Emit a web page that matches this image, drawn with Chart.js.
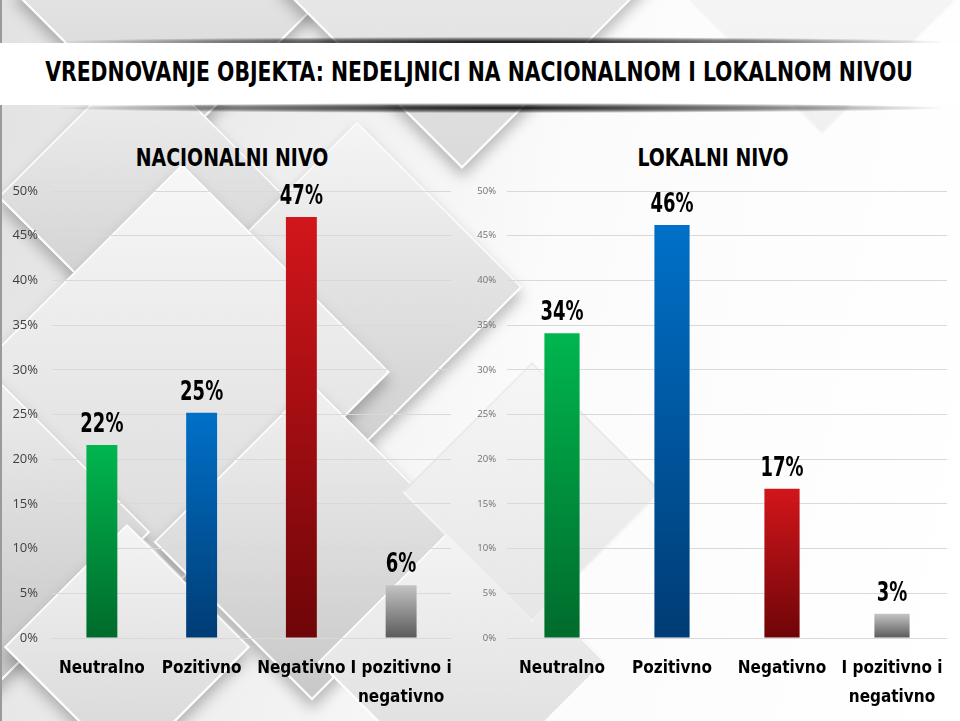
<!DOCTYPE html>
<html lang="sr">

<head>
    <meta charset="UTF-8">
    <title>Vrednovanje objekta</title>
    <script src="https://cdn.jsdelivr.net/npm/chart.js"></script>
    <style>
        html, body { margin: 0; padding: 0; }
        body {
            width: 960px; height: 721px; overflow: hidden; position: relative;
            background: linear-gradient(100deg, #e2e2e2 0%, #f1f1f1 35%, #fbfbfb 55%, #ffffff 100%);
            font-family: "DejaVu Sans Condensed", sans-serif;
        }
        .frame { position: absolute; left: 0; top: 0; width: 958px; height: 721px; border-left: 2px solid #9a9a9a; }
        .dia {
            position: absolute; transform: rotate(45deg);
            border: 2px solid rgba(255, 255, 255, 0.9);
            box-shadow: 6px 6px 14px rgba(0, 0, 0, 0.25);
        }
        .band { position: absolute; left: 0; top: 43px; width: 960px; height: 62px; background: #fff; }
        .shade { position: absolute; left: 60px; width: 880px; height: 10px;
            background: radial-gradient(ellipse at center, rgba(0,0,0,0.9) 0%, rgba(0,0,0,0.45) 45%, rgba(0,0,0,0) 72%); }
        .title, .sub { position: absolute; font-weight: bold; color: #000; white-space: nowrap; }
        .title span, .sub span { position: absolute; top: 0; transform: translateX(-50%) scaleX(0.84); }
        .title { left: 479px; top: 56px; font-size: 27px; }
        .sub { top: 143px; font-size: 25px; }
        canvas { position: absolute; }
    </style>
</head>

<body>
    <!-- pozadina -->
    <div class="dia" style="left:60px; top:-120px; width:220px; height:220px; background:linear-gradient(135deg,#f4f4f4,#d2d2d2);"></div>
    <div class="dia" style="left:330px; top:-150px; width:260px; height:260px; background:linear-gradient(135deg,#f6f6f6,#dadada);"></div>
    <div class="dia" style="left:40px; top:95px; width:200px; height:200px; background:linear-gradient(135deg,#f2f2f2,#cacaca);"></div>
    <div class="dia" style="left:240px; top:170px; width:230px; height:230px; background:linear-gradient(135deg,#f5f5f5,#cfcfcf);"></div>
    <div class="dia" style="left:35px; top:225px; width:290px; height:290px; background:linear-gradient(135deg,#f7f7f7,#dadada);"></div>
    <div class="dia" style="left:-120px; top:420px; width:220px; height:220px; background:linear-gradient(135deg,#eeeeee,#c4c4c4);"></div>
    <div class="dia" style="left:200px; top:430px; width:220px; height:220px; background:linear-gradient(135deg,#f1f1f1,#c8c8c8);"></div>
    <div class="dia" style="left:40px; top:560px; width:170px; height:170px; background:linear-gradient(135deg,#f4f4f4,#d5d5d5);"></div>
    <div class="dia" style="left:360px; top:560px; width:200px; height:200px; background:linear-gradient(135deg,#f5f5f5,#dadada); box-shadow:none;"></div>
    <div class="dia" style="left:440px; top:400px; width:180px; height:180px; background:linear-gradient(135deg,#f6f6f6,#e6e6e6); box-shadow:none; border-color:transparent;"></div>
    <div class="dia" style="left:700px; top:-160px; width:240px; height:240px; background:linear-gradient(135deg,#fbfbfb,#f0f0f0); box-shadow:none; border-color:transparent;"></div>
    <div class="frame"></div>

    <div class="shade" style="top:37px;"></div>
    <div class="band"></div>
    <div class="shade" style="top:103px;"></div>
    <div class="title"><span>VREDNOVANJE OBJEKTA: NEDELJNICI NA NACIONALNOM I LOKALNOM NIVOU</span></div>

    <div class="sub" style="left:232px;"><span>NACIONALNI NIVO</span></div>
    <div class="sub" style="left:713px;"><span>LOKALNI NIVO</span></div>

    <canvas id="chartNac" style="left:0; top:180px; width:460px; height:541px;"></canvas>
    <canvas id="chartLok" style="left:470px; top:180px; width:490px; height:541px;"></canvas>

    <script>
        // kategorije i vrednosti (u %)
        const categories = ['Neutralno', 'Pozitivno', 'Negativno', ['I pozitivno i', 'negativno']];
        const nacionalniValues = [21.6, 25.2, 47.1, 5.9];
        const lokalniValues = [34.1, 46.2, 16.7, 2.7];
        const yTicks = [0, 5, 10, 15, 20, 25, 30, 35, 40, 45, 50];

        const topColors = ['#00b64f', '#0070c8', '#d2161b', '#c4c4c4'];
        const bottomColors = ['#006b2c', '#003c74', '#6e0508', '#5a5a5a'];

        const condensed = '"DejaVu Sans Condensed", "DejaVu Sans", sans-serif';

        // gradijent po stubu (svetlo gore, tamno dole)
        function barFill(context) {
            const chart = context.chart;
            const i = context.dataIndex;
            if (!chart.chartArea) return topColors[i];
            const y = chart.scales.y;
            const top = y.getPixelForValue(context.raw);
            const base = y.getPixelForValue(0);
            const g = chart.ctx.createLinearGradient(0, top, 0, base);
            g.addColorStop(0, topColors[i]);
            g.addColorStop(1, bottomColors[i]);
            return g;
        }

        // procenti iznad stubova
        const valueLabels = {
            id: 'valueLabels',
            afterDatasetsDraw(chart) {
                const ctx = chart.ctx;
                const meta = chart.getDatasetMeta(0);
                ctx.save();
                ctx.fillStyle = '#000';
                ctx.font = 'bold 27px ' + condensed;
                ctx.textAlign = 'center';
                ctx.textBaseline = 'alphabetic';
                meta.data.forEach((bar, i) => {
                    const v = chart.data.datasets[0].data[i];
                    ctx.save();
                    ctx.translate(bar.x, bar.y - 13);
                    ctx.scale(0.74, 1);
                    ctx.fillText(Math.round(v) + '%', 0, 0);
                    ctx.restore();
                });
                ctx.restore();
            }
        };

        function drawChart(tag, values, opt) {
            const ctx = document.getElementById(tag);
            new Chart(ctx, {
                type: 'bar',
                data: {
                    labels: categories,
                    datasets: [{
                        data: values,
                        backgroundColor: barFill,
                        borderWidth: 0,
                        barPercentage: opt.barPct,
                        categoryPercentage: 1.0
                    }]
                },
                options: {
                    responsive: false,
                    animation: false,
                    layout: { padding: { top: 11, right: opt.padRight, bottom: 13, left: 0 } },
                    plugins: {
                        legend: { display: false },
                        tooltip: { enabled: false }
                    },
                    scales: {
                        x: {
                            grid: { display: false, drawTicks: false },
                            border: { display: false },
                            ticks: {
                                color: '#000',
                                padding: 16,
                                maxRotation: 0,
                                autoSkip: false,
                                font: { family: condensed, size: 17, weight: 'bold', lineHeight: 1.7 }
                            },
                            afterFit: (s) => { s.height = 70; s.paddingLeft = 0; s.paddingRight = 0; }
                        },
                        y: {
                            min: 0,
                            max: 50,
                            afterBuildTicks: (s) => { s.ticks = yTicks.map(v => ({ value: v })); },
                            grid: { color: '#d9d9d9', lineWidth: 1, drawTicks: false },
                            border: { display: false },
                            ticks: {
                                color: opt.tickColor,
                                padding: opt.tickPad,
                                font: { family: '"Open Sans"', size: opt.tickSize },
                                callback: (v) => v + '%'
                            },
                            afterFit: (s) => { s.width = opt.yWidth; s.paddingTop = 0; s.paddingBottom = 0; }
                        }
                    }
                },
                plugins: [valueLabels]
            });
        }

        drawChart('chartNac', nacionalniValues, { barPct: 0.31, padRight: 9, yWidth: 52, tickPad: 14, tickSize: 13, tickColor: '#404040' });
        drawChart('chartLok', lokalniValues, { barPct: 0.32, padRight: 13, yWidth: 37, tickPad: 11, tickSize: 9.5, tickColor: '#707070' });
    </script>
</body>

</html>
